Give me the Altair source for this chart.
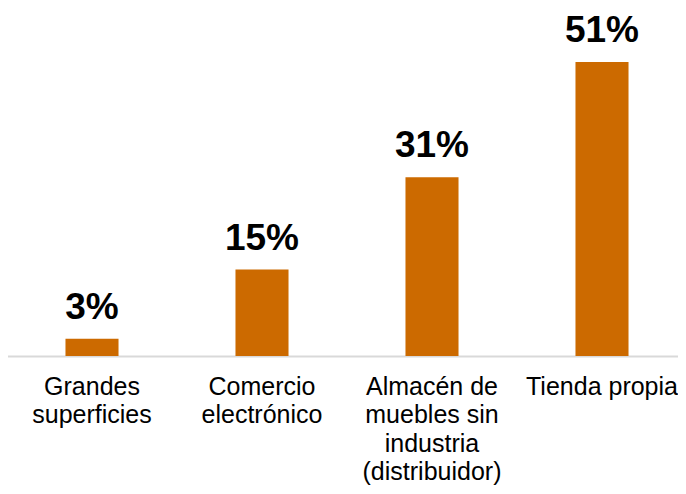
import altair as alt
import pandas as pd

categories = ["Grandes\nsuperficies", "Comercio\nelectrónico", "Almacén de\nmuebles sin\nindustria\n(distribuidor)", "Tienda propia"]
values = [3, 15, 31, 51]
labels = ["3%", "15%", "31%", "51%"]

df = pd.DataFrame({"cat": categories, "val": values, "lab": labels})

x = alt.X("cat:N", sort=categories, title=None,
          scale=alt.Scale(paddingInner=0.688, paddingOuter=0.344, range=[-1, 679]),
          axis=alt.Axis(labelAngle=0, ticks=False, domainColor="#D9D9D9", domainWidth=2,
                        labelFont="Liberation Sans", labelFontSize=25, labelColor="#000000",
                        labelLineHeight=28.5, labelPadding=18, labelBaseline="top",
                        labelLimit=300,
                        labelExpr="split(datum.label, '\\n')"))
y = alt.Y("val:Q", scale=alt.Scale(domain=[0, 60.37]), axis=None)

bars = alt.Chart(df).mark_bar(color="#CC6A00").encode(x=x, y=y)
text = alt.Chart(df).mark_text(font="Liberation Sans", fontSize=37, fontWeight="bold",
                               baseline="alphabetic", dy=-20, color="#000000").encode(
    x=alt.X("cat:N", sort=categories), y=y, text="lab:N")

chart = (bars + text).properties(
    width=670, height=348,
    padding={"top": 0, "left": 0, "right": 0, "bottom": 130},
    autosize=alt.AutoSizeParams(type="none"),
).configure_view(stroke=None)
chart.save("out.html", embed_options={"renderer": "svg", "actions": False})
